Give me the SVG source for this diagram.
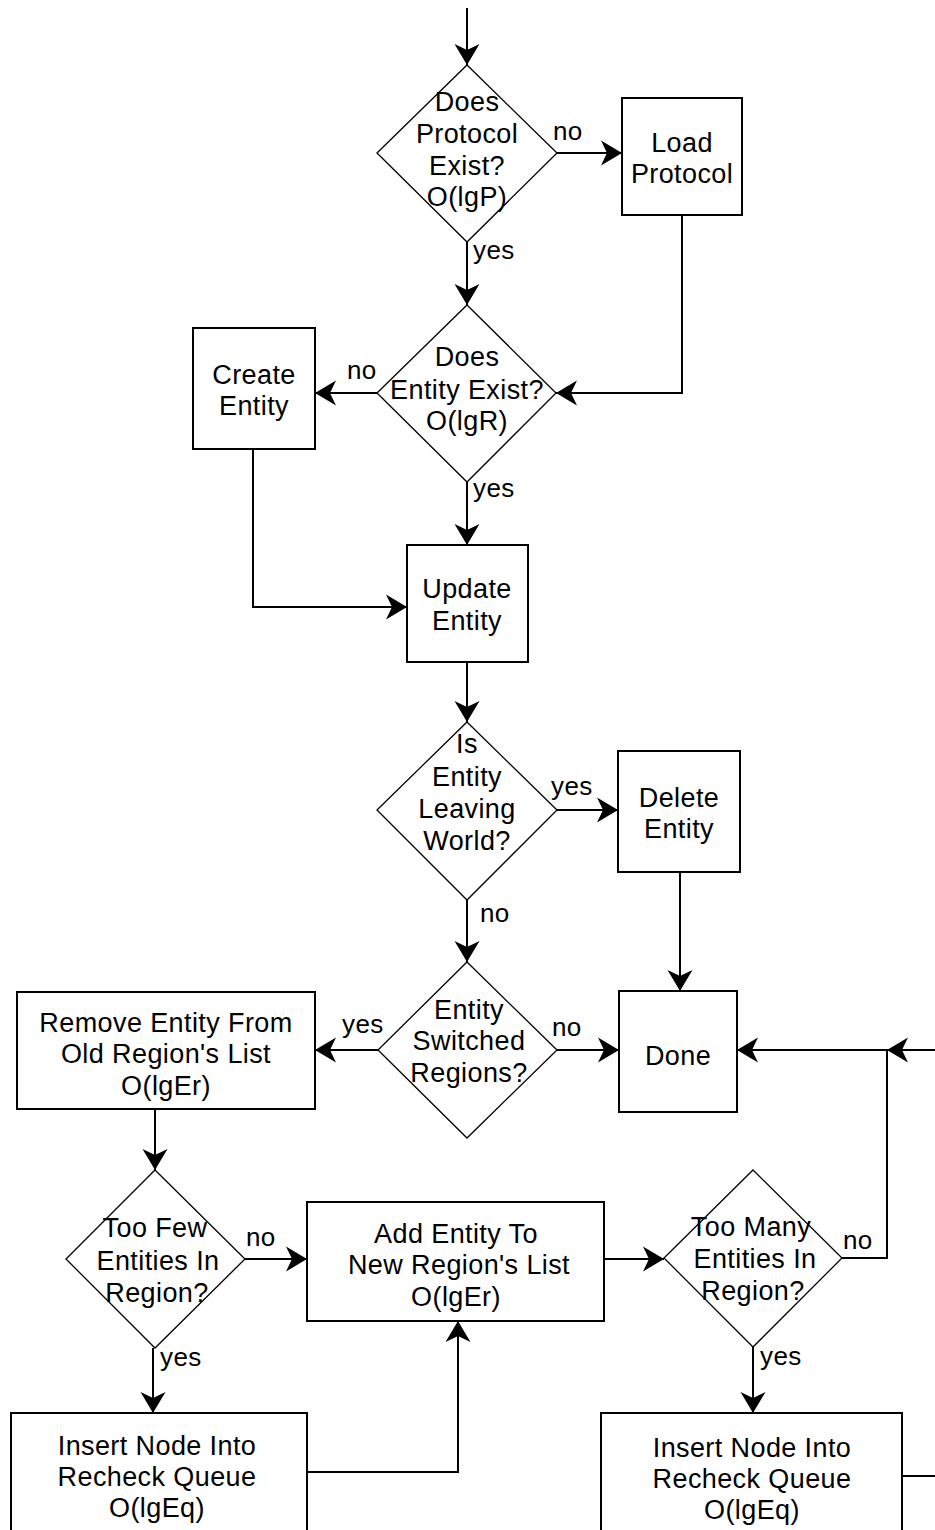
<svg xmlns="http://www.w3.org/2000/svg" width="935" height="1530" viewBox="0 0 935 1530">
<style>
.box{fill:#fff;stroke:#000;stroke-width:2}
.dia{fill:#fff;stroke:#000;stroke-width:1.3}
.ln{fill:none;stroke:#000;stroke-width:2}
text{font-family:"Liberation Sans",Arial,sans-serif;font-size:27px;fill:#000;letter-spacing:0.4px}
.c{text-anchor:middle}
.lbl{font-size:26px}
</style>
<defs>
<marker id="ah" markerUnits="userSpaceOnUse" viewBox="-22 -14 24 28" markerWidth="24" markerHeight="28" refX="0" refY="0" orient="auto">
<path d="M0,0 L-21,-12.5 L-15,0 L-21,12.5 Z" fill="#000"/>
</marker>
</defs>
<rect width="935" height="1530" fill="#fff"/>
<g id="connectors">
<path class="ln" d="M467,8 V65" marker-end="url(#ah)"/>
<path class="ln" d="M557,153 H622" marker-end="url(#ah)"/>
<path class="ln" d="M467,242 V305" marker-end="url(#ah)"/>
<path class="ln" d="M682,215 V393 H556" marker-end="url(#ah)"/>
<path class="ln" d="M377,393 H315" marker-end="url(#ah)"/>
<path class="ln" d="M467,482 V545" marker-end="url(#ah)"/>
<path class="ln" d="M253,449 V607 H407" marker-end="url(#ah)"/>
<path class="ln" d="M467,662 V722" marker-end="url(#ah)"/>
<path class="ln" d="M557,810 H618" marker-end="url(#ah)"/>
<path class="ln" d="M680,872 V991" marker-end="url(#ah)"/>
<path class="ln" d="M467,900 V962" marker-end="url(#ah)"/>
<path class="ln" d="M378,1050 H315" marker-end="url(#ah)"/>
<path class="ln" d="M557,1050 H619" marker-end="url(#ah)"/>
<path class="ln" d="M887,1050 H737" marker-end="url(#ah)"/>
<path class="ln" d="M935,1050 H887" marker-end="url(#ah)"/>
<path class="ln" d="M842,1258 H887 V1050"/>
<path class="ln" d="M155,1109 V1170" marker-end="url(#ah)"/>
<path class="ln" d="M245,1259 H307" marker-end="url(#ah)"/>
<path class="ln" d="M153,1348 V1413" marker-end="url(#ah)"/>
<path class="ln" d="M307,1472 H458 V1321" marker-end="url(#ah)"/>
<path class="ln" d="M604,1259 H664" marker-end="url(#ah)"/>
<path class="ln" d="M753,1347 V1413" marker-end="url(#ah)"/>
<path class="ln" d="M902,1476 H935"/>
<text class="lbl" x="553" y="140">no</text>
<text class="lbl" x="473" y="259">yes</text>
<text class="lbl" x="347" y="379">no</text>
<text class="lbl" x="473" y="497">yes</text>
<text class="lbl" x="551" y="795">yes</text>
<text class="lbl" x="480" y="922">no</text>
<text class="lbl" x="342" y="1033">yes</text>
<text class="lbl" x="552" y="1036">no</text>
<text class="lbl" x="246" y="1246">no</text>
<text class="lbl" x="160" y="1366">yes</text>
<text class="lbl" x="843" y="1249">no</text>
<text class="lbl" x="760" y="1365">yes</text>
</g>
<g id="protocol-exists">
<polygon class="dia" points="467,65 557,153 467,242 377,153"/>
<text class="c" x="467" y="111">Does</text>
<text class="c" x="467" y="143">Protocol</text>
<text class="c" x="467" y="175">Exist?</text>
<text class="c" x="467" y="206">O(lgP)</text>
</g>
<g id="load-protocol">
<rect class="box" x="622" y="98" width="120" height="117"/>
<text class="c" x="682" y="152">Load</text>
<text class="c" x="682" y="183">Protocol</text>
</g>
<g id="entity-exists">
<polygon class="dia" points="467,305 556,393 467,482 377,393"/>
<text class="c" x="467" y="366">Does</text>
<text class="c" x="467" y="399">Entity Exist?</text>
<text class="c" x="467" y="430">O(lgR)</text>
</g>
<g id="create-entity">
<rect class="box" x="193" y="328" width="122" height="121"/>
<text class="c" x="254" y="384">Create</text>
<text class="c" x="254" y="415">Entity</text>
</g>
<g id="update-entity">
<rect class="box" x="407" y="545" width="121" height="117"/>
<text class="c" x="467" y="598">Update</text>
<text class="c" x="467" y="630">Entity</text>
</g>
<g id="leaving-world">
<polygon class="dia" points="467,722 557,810 467,900 377,810"/>
<text class="c" x="467" y="753">Is</text>
<text class="c" x="467" y="786">Entity</text>
<text class="c" x="467" y="818">Leaving</text>
<text class="c" x="467" y="850">World?</text>
</g>
<g id="delete-entity">
<rect class="box" x="618" y="751" width="122" height="121"/>
<text class="c" x="679" y="807">Delete</text>
<text class="c" x="679" y="838">Entity</text>
</g>
<g id="switched-regions">
<polygon class="dia" points="467,962 557,1050 467,1138 378,1050"/>
<text class="c" x="469" y="1019">Entity</text>
<text class="c" x="469" y="1050">Switched</text>
<text class="c" x="469" y="1082">Regions?</text>
</g>
<g id="done">
<rect class="box" x="619" y="991" width="118" height="121"/>
<text class="c" x="678" y="1065">Done</text>
</g>
<g id="remove-entity">
<rect class="box" x="17" y="992" width="298" height="117"/>
<text class="c" x="166" y="1032">Remove Entity From</text>
<text class="c" x="166" y="1063">Old Region's List</text>
<text class="c" x="166" y="1095">O(lgEr)</text>
</g>
<g id="too-few">
<polygon class="dia" points="155,1170 245,1259 155,1348 66,1259"/>
<text class="c" x="155" y="1237">Too Few</text>
<text class="c" x="158" y="1270">Entities In</text>
<text class="c" x="157" y="1302">Region?</text>
</g>
<g id="add-entity">
<rect class="box" x="307" y="1202" width="297" height="119"/>
<text class="c" x="456" y="1243">Add Entity To</text>
<text class="c" x="459" y="1274">New Region's List</text>
<text class="c" x="456" y="1306">O(lgEr)</text>
</g>
<g id="too-many">
<polygon class="dia" points="753,1170 842,1258 753,1347 664,1258"/>
<text class="c" x="751" y="1236">Too Many</text>
<text class="c" x="755" y="1268">Entities In</text>
<text class="c" x="753" y="1300">Region?</text>
</g>
<g id="insert-left">
<rect class="box" x="11" y="1413" width="296" height="130"/>
<text class="c" x="157" y="1455">Insert Node Into</text>
<text class="c" x="157" y="1486">Recheck Queue</text>
<text class="c" x="157" y="1517">O(lgEq)</text>
</g>
<g id="insert-right">
<rect class="box" x="601" y="1413" width="301" height="130"/>
<text class="c" x="752" y="1457">Insert Node Into</text>
<text class="c" x="752" y="1488">Recheck Queue</text>
<text class="c" x="752" y="1519">O(lgEq)</text>
</g>
</svg>
